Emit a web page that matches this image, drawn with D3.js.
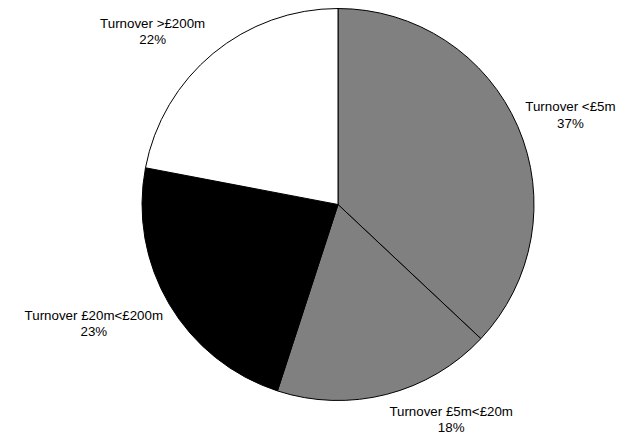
<!DOCTYPE html>
<html>
<head>
<meta charset="utf-8">
<script src="https://cdn.jsdelivr.net/npm/d3@7"></script>
<style>
    body { margin: 0; background: #ffffff; }
    svg { display: block; }
</style>
</head>
<body>
<svg id="pie-chart"></svg>
<script>
/**
 * Chart data
 */
const categories = ['Turnover <£5m', 'Turnover £5m<£20m', 'Turnover £20m<£200m', 'Turnover >£200m'];
const shares = [37, 18, 23, 22];
const sliceColours = ['#808080', '#808080', '#000000', '#ffffff'];

/**
 * Layout of the canvas
 */
const width = 626;
const height = 438;
const centre = [338, 204.5];
const radius = 196;
const labelRadius = 250;
const fontSize = 13.33;
const lineHeight = 16.6;
// Nudges of each label away from its centroid on the label arc (Excel-style placement)
const labelNudge = [[3, 6], [51, -31], [-29, -12], [-26, 16]];

function drawPie(tag) {
    tag.selectAll('*').remove();
    tag.attr('width', width).attr('height', height);

    const chart = tag.append('g').attr('transform', `translate(${centre[0]}, ${centre[1]})`);

    const pie = d3.pie().sort(null).value((d) => d.value);
    const slices = pie(categories.map((name, i) => ({ name, value: shares[i], colour: sliceColours[i] })));

    const arc = d3.arc().innerRadius(0).outerRadius(radius);
    const labelArc = d3.arc().innerRadius(labelRadius).outerRadius(labelRadius);

    // The slices
    chart
        .selectAll('.slice')
        .data(slices)
        .join('path')
        .attr('class', 'slice')
        .attr('d', arc)
        .attr('fill', (d) => d.data.colour)
        .attr('stroke', '#000000')
        .attr('stroke-width', 1)
        .attr('stroke-linejoin', 'round');

    // The labels, name on the first line and share on the second
    const labels = chart
        .selectAll('.label')
        .data(slices)
        .join('text')
        .attr('class', 'label')
        .attr('transform', (d, i) => {
            const [x, y] = labelArc.centroid(d);
            return `translate(${x + labelNudge[i][0]}, ${y + labelNudge[i][1]})`;
        })
        .attr('text-anchor', 'middle')
        .attr('font-family', '"Liberation Sans", Arial, sans-serif')
        .attr('font-size', fontSize)
        .attr('fill', '#000000');

    labels.append('tspan').attr('x', 0).attr('y', 0).text((d) => d.data.name);
    labels
        .append('tspan')
        .attr('x', 0)
        .attr('y', lineHeight)
        .text((d) => `${d.data.value}%`);
}

window.addEventListener('DOMContentLoaded', () => {
    drawPie(d3.select('#pie-chart'));
});
</script>
</body>
</html>
